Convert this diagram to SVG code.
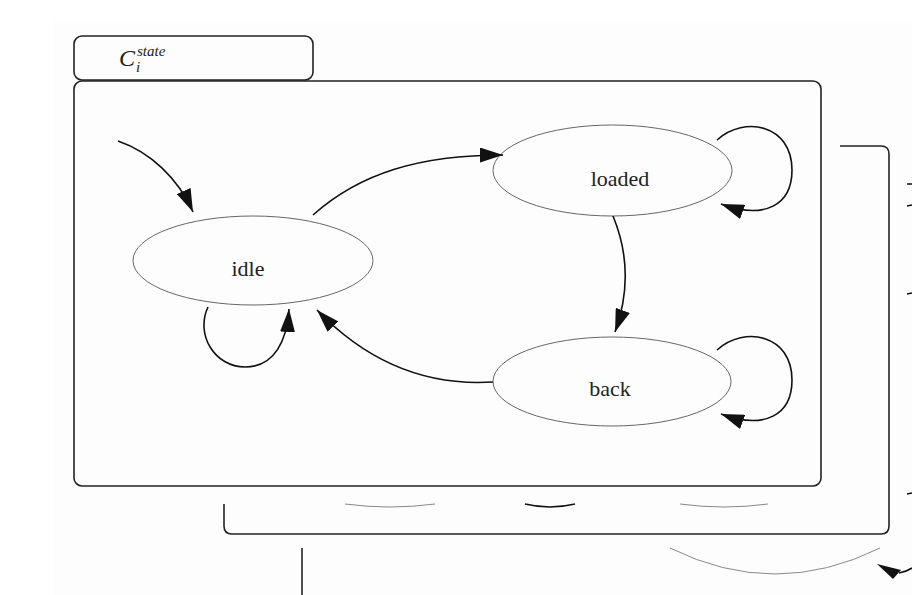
<svg xmlns="http://www.w3.org/2000/svg" width="912" height="595" viewBox="0 0 912 595">
<style>
.box{fill:none;stroke:#222;stroke-width:1.6}
.node{fill:none;stroke:#666;stroke-width:1}
.edge{fill:none;stroke:#111;stroke-width:1.6}
.frag{fill:none;stroke:#888;stroke-width:1}
.lbl{font-family:"Liberation Serif","Times New Roman",serif;font-size:22px;fill:#222;text-anchor:middle}
.math{font-family:"Liberation Serif","Times New Roman",serif;font-style:italic;fill:#222}
</style>
<defs>
<marker id="ah" viewBox="0 0 23 15" refX="23" refY="7.5" markerWidth="23" markerHeight="15" markerUnits="userSpaceOnUse" orient="auto">
<path d="M0,0 L23,7.5 L0,15 z" fill="#111"/>
</marker>
</defs>
<rect width="912" height="595" fill="#ffffff"/>
<rect x="53" y="22" width="859" height="573" fill="#fdfdfd"/>
<g id="background-layers">
<path class="box" d="M840,146 H881 Q889,146 889,154 V526 Q889,534 881,534 H232 Q224,534 224,526 V504"/>
<path class="frag" d="M345,504 Q390,510 435,504"/>
<path class="edge" d="M525,504 Q550,510 575,504"/>
<path class="frag" d="M680,504 Q724,510 768,504"/>
<path class="edge" d="M907,184 H912 M907,206 L912,205 M907,294 L912,293 M907,494 L912,493"/>
<path class="box" d="M302,548 V595"/>
<path class="frag" d="M670,548 Q775,600 880,548"/>
<path class="edge" d="M899,573 Q906,572 912,568"/>
<polygon points="877,564 901,570 893,579" fill="#111"/>
</g>
<g id="tab">
<rect class="box" x="74" y="36" width="239" height="44" rx="8"/>
<text class="math" x="119" y="66" font-size="24">C</text>
<text class="math" x="137" y="56" font-size="15">state</text>
<text class="math" x="136" y="72" font-size="15">i</text>
</g>
<g id="container">
<rect class="box" x="74" y="81" width="747" height="405" rx="8"/>
</g>
<g id="idle">
<ellipse class="node" cx="253" cy="260.5" rx="120" ry="44.5"/>
<text class="lbl" x="248" y="276">idle</text>
</g>
<g id="loaded">
<ellipse class="node" cx="612.5" cy="170.5" rx="119.5" ry="45.5"/>
<text class="lbl" x="620" y="186">loaded</text>
</g>
<g id="back">
<ellipse class="node" cx="612" cy="381.5" rx="119" ry="44.5"/>
<text class="lbl" x="610" y="396">back</text>
</g>
<g id="connectors">
<path class="edge" marker-end="url(#ah)" d="M118,141 C150,152 178,178 193,212"/>
<path class="edge" marker-end="url(#ah)" d="M313,215 C360,173 420,155 503,155"/>
<path class="edge" marker-end="url(#ah)" d="M717,140 C745,115 792,125 792,170 C792,205 765,220 721,204"/>
<path class="edge" marker-end="url(#ah)" d="M717,350 C745,325 792,335 792,380 C792,415 765,430 721,414"/>
<path class="edge" marker-end="url(#ah)" d="M613,216 C625,245 632,285 615,332"/>
<path class="edge" marker-end="url(#ah)" d="M493,382 C430,386 370,365 317,310"/>
<path class="edge" marker-end="url(#ah)" d="M208,307 C195,335 215,367 245,367 C275,367 287,340 289,309"/>
</g>
</svg>
